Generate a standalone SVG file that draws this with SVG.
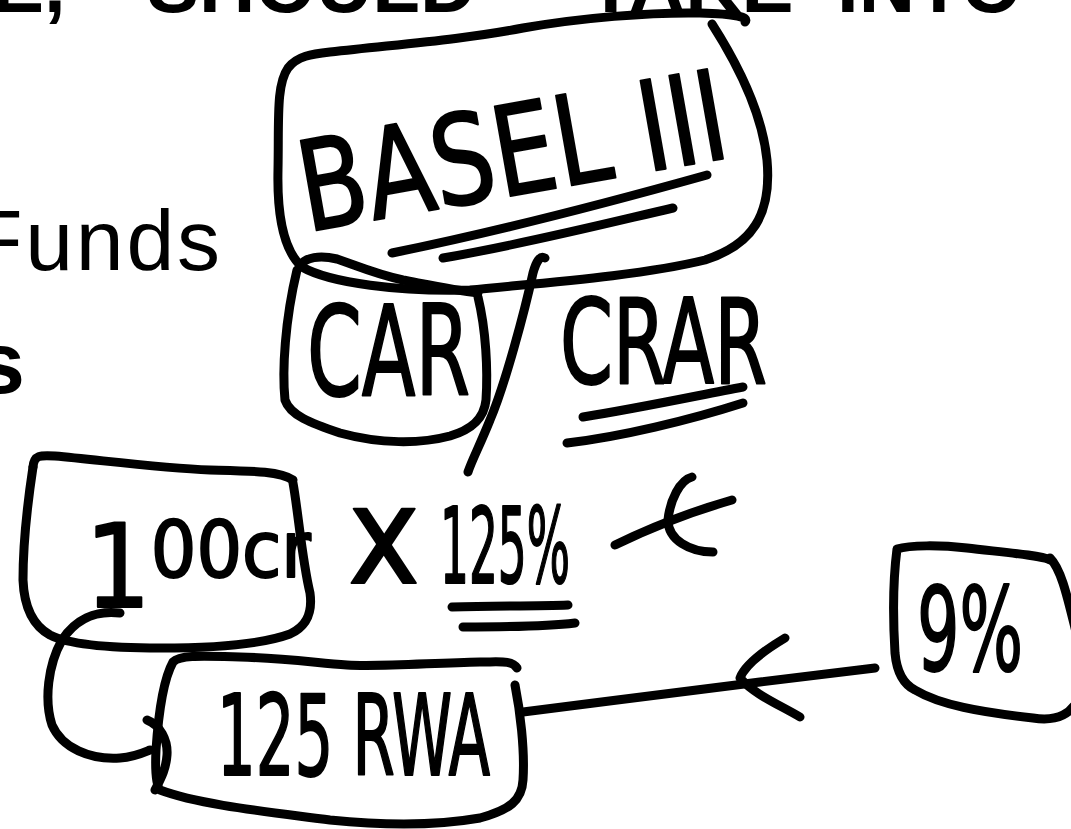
<svg xmlns="http://www.w3.org/2000/svg" width="1071" height="829" viewBox="0 0 1071 829">
<style>
.ink{fill:none;stroke:#000;stroke-width:9;stroke-linecap:round;stroke-linejoin:round}
.hand{font-family:"Liberation Sans Narrow","DejaVu Sans Condensed","Liberation Sans",sans-serif;fill:#000;stroke:#000;stroke-width:2;stroke-linejoin:round}
.slide{font-family:"Liberation Sans",Arial,sans-serif;fill:#000}
</style>
<rect width="1071" height="829" fill="#fff"/>
<g id="slide-text">
<text class="slide" x="-8" y="12" font-size="78" font-weight="bold">E,</text>
<text class="slide" x="147" y="12" font-size="78" font-weight="bold">SHOULD</text>
<text class="slide" x="587" y="12" font-size="78" font-weight="bold">TAKE</text>
<text class="slide" x="837" y="12" font-size="78" font-weight="bold">INTO</text>
<text class="slide" x="-30" y="270" font-size="86" textLength="250" lengthAdjust="spacing">Funds</text>
<text class="slide" x="-24" y="393" font-size="88" font-weight="bold">s</text>
</g>
<g id="basel">
<path class="ink" d="M712,24 C735,60 762,110 767,160 C772,215 752,245 705,260 C640,276 540,283 470,290 C400,292 330,283 302,267 C283,250 277,215 278,170 C279,120 276,85 288,68 C297,56 312,54 330,52 C400,44 460,40 523,28 C580,18 650,12 700,13 C735,14 750,17 745,22"/>
<text class="hand" x="307" y="232" font-size="125" textLength="432" lengthAdjust="spacingAndGlyphs" transform="rotate(-10 307 232)">BASEL III</text>
<path class="ink" d="M392,253 C480,235 600,205 707,175"/>
<path class="ink" d="M443,258 C520,245 600,225 673,208"/>
</g>
<g id="car">
<path class="ink" d="M300,266 C305,257 320,255 337,259 C355,265 375,274 403,280 C430,285 455,290 478,293"/>
<path class="ink" d="M478,297 C486,330 488,370 486,400 C484,420 470,430 450,436 C420,444 380,444 340,433 C310,423 290,415 285,400 C282,370 285,320 297,270"/>
<text class="hand" x="307" y="395" font-size="125" textLength="163" lengthAdjust="spacingAndGlyphs">CAR</text>
</g>
<g id="crar">
<text class="hand" x="560" y="383" font-size="118" textLength="207" lengthAdjust="spacingAndGlyphs">CRAR</text>
<path class="ink" d="M583,417 C640,408 700,395 743,387"/>
<path class="ink" d="M567,443 C620,437 690,420 743,403"/>
</g>
<g id="cr100">
<path class="ink" d="M33,467 C34,455 40,455 55,456 C100,460 160,468 210,470 C250,471 280,471 293,480"/>
<path class="ink" d="M293,483 C298,510 302,560 310,593 C313,615 305,627 290,634 C260,645 210,648 160,648 C110,648 70,645 50,635 C32,625 24,605 23,580 C23,540 28,500 33,467"/>
<text class="hand" x="85" y="607" font-size="115">1<tspan font-size="78" dy="-30" textLength="160" lengthAdjust="spacingAndGlyphs">00cr</tspan></text>
</g>
<g id="times125">
<text class="hand" x="348" y="583" font-size="135">x</text>
<text class="hand" x="440" y="583" font-size="106" textLength="130" lengthAdjust="spacingAndGlyphs">125%</text>
<path class="ink" d="M452,607 C500,606 540,606 568,605"/>
<path class="ink" d="M463,627 C510,627 550,626 575,623"/>
</g>
<g id="rwa">
<path class="ink" d="M517,668 C512,660 500,662 480,662 C430,663 380,667 347,665 C310,662 280,658 240,657 C200,656 180,655 173,662 C163,680 158,720 156,750 C155,770 156,785 160,790 C200,805 270,812 330,820 C390,826 440,825 480,818 C510,810 522,800 523,780 C525,750 520,710 515,685"/>
<text class="hand" x="217" y="775" font-size="112" textLength="273" lengthAdjust="spacingAndGlyphs">125 RWA</text>
</g>
<g id="pct9">
<path class="ink" d="M1050,560 C1040,555 1000,552 967,548 C940,545 910,545 897,549 C893,580 893,620 895,653 C897,675 905,685 915,690 C940,705 980,712 1033,718 C1060,722 1071,712 1078,700"/>
<path class="ink" d="M1050,558 C1062,570 1068,600 1078,640"/>
<text class="hand" x="917" y="670" font-size="115" textLength="106" lengthAdjust="spacingAndGlyphs">9%</text>
</g>
<g id="connectors">
<path class="ink" d="M545,258 C540,255 536,262 533,273 C525,310 505,385 490,420 C480,445 472,460 468,472"/>
<path class="ink" d="M120,613 C95,610 75,620 62,640 C48,665 44,700 52,725 C62,748 90,760 120,758 C135,757 145,752 150,750"/>
<path class="ink" d="M147,720 C160,725 168,740 167,755 C166,770 160,780 155,790"/>
<path class="ink" d="M523,712 C600,702 700,690 760,682 C800,677 840,672 875,668"/>
<path class="ink" d="M785,638 C765,650 745,665 740,678 C755,695 780,705 800,717"/>
<path class="ink" d="M615,545 C650,528 690,512 732,500"/>
<path class="ink" d="M692,477 C680,480 670,500 668,520 C668,540 690,552 713,552"/>
</g>
</svg>
